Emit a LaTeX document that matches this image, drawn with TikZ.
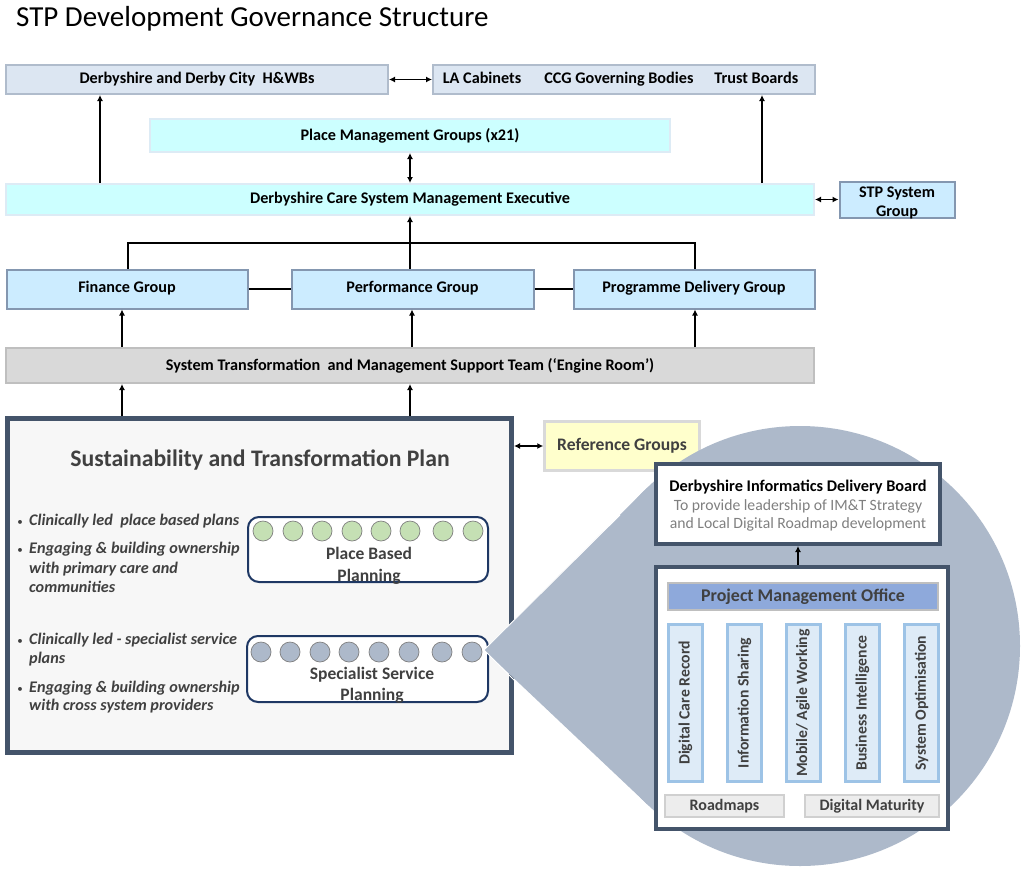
\documentclass[tikz,border=0pt]{standalone}
\usepackage{fontspec}
\setmainfont{Carlito}
\usetikzlibrary{arrows.meta,calc}
\definecolor{topfill}{HTML}{DCE6F2}
\definecolor{topline}{HTML}{B0BCCC}
\definecolor{cyanfill}{HTML}{CCFFFF}
\definecolor{cyanline}{HTML}{DDEBF5}
\definecolor{grpfill}{HTML}{CCECFF}
\definecolor{grpline}{HTML}{8497B0}
\definecolor{stfill}{HTML}{D9D9D9}
\definecolor{stline}{HTML}{BFBFBF}
\definecolor{navy}{HTML}{44546A}
\definecolor{stpfill}{HTML}{F7F7F7}
\definecolor{dkgray}{HTML}{404040}
\definecolor{midgray}{HTML}{808080}
\definecolor{reffill}{HTML}{FFFFCC}
\definecolor{refline}{HTML}{D9D9D9}
\definecolor{callout}{HTML}{ADB9CA}
\definecolor{planline}{HTML}{1F3864}
\definecolor{greenc}{HTML}{C5E0B4}
\definecolor{pmofill}{HTML}{8EA9DB}
\definecolor{barfill}{HTML}{DEEBF7}
\definecolor{barline}{HTML}{9DC3E6}
\definecolor{lowfill}{HTML}{EDEDED}
\definecolor{lowline}{HTML}{D0D0D0}
\newcommand{\fs}[1]{\fontsize{#1}{#1}\selectfont}
\begin{document}
\begin{tikzpicture}[x=1pt,y=-1pt,
  box/.style={draw, line width=2pt, inner sep=2pt, font=\fs{16.2}\bfseries},
  topbox/.style={box, fill=topfill, draw=topline},
  cyanbox/.style={box, fill=cyanfill, draw=cyanline},
  grpbox/.style={box, fill=grpfill, draw=grpline},
  arr/.style={line width=1.6pt, -{Latex[length=6pt,width=6pt]}},
  darr/.style={line width=1.6pt, {Latex[length=6pt,width=6pt]}-{Latex[length=6pt,width=6pt]}},
  conn/.style={line width=1.6pt},
  dot/.style={circle, draw=midgray, line width=0.7pt, minimum size=20pt, inner sep=0pt},
  bline/.style={anchor=base west, inner sep=0pt, font=\fs{16.2}\bfseries\itshape, text=dkgray},
  bdot/.style={anchor=base, inner sep=0pt, font=\fs{11}, text=dkgray},
  barbox/.style={draw=barline, fill=barfill, line width=3pt, rotate=90, minimum width=157pt, minimum height=34pt, inner sep=0pt, font=\fs{15.7}\bfseries, text=dkgray},
  lowbox/.style={draw=lowline, fill=lowfill, line width=2.5pt, minimum height=22pt, inner sep=0pt, font=\fs{16}\bfseries, text=dkgray}
]
\useasboundingbox (0,0) rectangle (1022,870);
\fill[white] (0,0) rectangle (1022,870);

\node[anchor=base west, font=\fs{29}, inner sep=0pt] (title) at (16,27) {STP Development Governance Structure};

% top row
\node[topbox, minimum width=382pt, minimum height=29pt] (hwb) at (197,79.5) {Derbyshire and Derby City\ \ H\&WBs};
\node[topbox, minimum width=382pt, minimum height=29pt] (trust) at (624,79.5) {\hspace{-7pt}LA Cabinets\hspace{23pt}CCG Governing Bodies\hspace{21pt}Trust Boards};
\node[cyanbox, minimum width=520pt, minimum height=33pt] (pmg) at (410,135.5) {Place Management Groups (x21)};
\node[cyanbox, minimum width=808pt, minimum height=31pt] (exec) at (410,199.5) {Derbyshire Care System Management Executive};
\node[grpbox, minimum width=115pt, minimum height=36pt] (stpsg) at (897,199.5) {};
\node[anchor=base, inner sep=0pt, font=\fs{16.2}\bfseries] (stpsg1) at (897,197) {STP System};
\node[anchor=base, inner sep=0pt, font=\fs{16.2}\bfseries] (stpsg2) at (897,216) {Group};

% groups
\node[grpbox, minimum width=241pt, minimum height=39pt] (fin) at (127,289) {\raisebox{5pt}{Finance Group}};
\node[grpbox, minimum width=242pt, minimum height=39pt] (perf) at (412.5,289) {\raisebox{5pt}{Performance Group}};
\node[grpbox, minimum width=241pt, minimum height=39pt] (prog) at (694,289) {\raisebox{5pt}{Programme Delivery Group}};
\node[box, fill=stfill, draw=stline, minimum width=808pt, minimum height=35pt] (st) at (410,365.5) {System Transformation\ \ and Management Support Team (‘Engine Room’)};

% STP plan box
\node[draw=navy, fill=stpfill, line width=5pt, minimum width=504pt, minimum height=334pt] (stp) at (259.5,585.5) {};
\node[font=\fs{23.7}\bfseries, text=dkgray] (stptitle) at (260,460) {Sustainability and Transformation Plan};

\node[draw=planline, fill=white, line width=2pt, rounded corners=11pt, minimum width=240pt, minimum height=65pt] (place) at (368,549.5) {};
\node[draw=planline, fill=white, line width=2pt, rounded corners=11pt, minimum width=241pt, minimum height=66pt] (spec) at (367.5,669) {};

\foreach \i/\x in {1/263,2/293,3/322,4/352,5/381,6/410,7/443,8/473}{
  \node[dot, fill=greenc] (g\i) at (\x,531) {};
}
\foreach \i/\x in {1/261,2/290,3/320,4/349,5/379,6/409,7/442,8/472}{
  \node[dot, fill=callout] (s\i) at (\x,652) {};
}
\node[anchor=base, inner sep=0pt, font=\fs{17.5}\bfseries, text=dkgray] (placetxt1) at (369,559) {Place Based};
\node[anchor=base, inner sep=0pt, font=\fs{17.5}\bfseries, text=dkgray] (placetxt2) at (369,581) {Planning};
\node[anchor=base, inner sep=0pt, font=\fs{17.5}\bfseries, text=dkgray] (spectxt1) at (372,679) {Specialist Service};
\node[anchor=base, inner sep=0pt, font=\fs{17.5}\bfseries, text=dkgray] (spectxt2) at (372,700) {Planning};

\node[bline] (b1) at (29,525) {Clinically led\ \ place based plans};
\node[bline] (b2) at (29,553) {Engaging \& building ownership};
\node[bline] (b2b) at (29,573) {with primary care and};
\node[bline] (b2c) at (29,592) {communities};
\node[bline] (b3) at (29,644) {Clinically led - specialist service};
\node[bline] (b3b) at (29,663) {plans};
\node[bline] (b4) at (29,692) {Engaging \& building ownership};
\node[bline] (b4b) at (29,710) {with cross system providers};
\foreach \n in {b1,b2,b3,b4}{
  \node[bdot] at ([xshift=-9pt]\n.base west) {•};
}

% reference groups
\node[draw=refline, fill=reffill, line width=2.5pt, minimum width=155pt, minimum height=49pt, font=\fs{17.6}\bfseries, text=dkgray] (ref) at (622,446) {Reference Groups};

% callout
\fill[callout] (800,646) circle[radius=220pt];
\fill[callout] (484,650) -- (647,488) -- (800,646) -- (647,804) -- cycle;
\draw[white, line width=0.8pt] (484,650) -- (620,515);
\draw[white, line width=0.8pt] (484,650) -- (600,766);

% informatics
\node[draw=navy, fill=white, line width=4pt, minimum width=284pt, minimum height=80pt] (idb) at (798,504) {};
\node[font=\fs{16.3}\bfseries, anchor=base, inner sep=0pt] (idbt) at (798,491) {Derbyshire Informatics Delivery Board};
\node[font=\fs{15.7}, text=midgray, anchor=base, inner sep=0pt] (idbs1) at (798,510) {To provide leadership of IM\&T Strategy};
\node[font=\fs{15.7}, text=midgray, anchor=base, inner sep=0pt] (idbs2) at (798,528) {and Local Digital Roadmap development};

\node[draw=navy, fill=white, line width=4pt, minimum width=292pt, minimum height=262pt] (low) at (802,698) {};
\node[draw=stline, fill=pmofill, line width=2.5pt, minimum width=270pt, minimum height=27pt, inner sep=0pt, font=\fs{17.9}\bfseries, text=dkgray] (pmo) at (803,596.5) {Project Management Office};
\node[barbox] (bar1) at (685.5,703) {Digital Care Record};
\node[barbox] (bar2) at (744.5,703) {Information Sharing};
\node[barbox] (bar3) at (803,703) {Mobile/ Agile Working};
\node[barbox] (bar4) at (862.5,703) {Business Intelligence};
\node[barbox] (bar5) at (921.5,703) {System Optimisation};
\node[lowbox, minimum width=119pt] (road) at (724.5,806) {Roadmaps};
\node[lowbox, minimum width=134pt] (dm) at (872,806) {Digital Maturity};

% connectors
\coordinate (x100) at (100,0);
\coordinate (x762) at (762,0);
\coordinate (x128) at (128,0);
\coordinate (x695) at (695,0);
\coordinate (x410) at (410,0);
\coordinate (x122) at (122,0);
\coordinate (x412) at (412,0);
\coordinate (bus) at (410,243);

\draw[darr] (hwb.east) -- (trust.west);
\draw[arr] (x100 |- exec.north) -- (x100 |- hwb.south);
\draw[arr] (x762 |- exec.north) -- (x762 |- trust.south);
\draw[darr] (pmg.south) -- (exec.north);
\draw[darr] (exec.east) -- (stpsg.west);
\draw[conn] (x128 |- fin.north) |- (bus) -| (x695 |- prog.north);
\draw[arr] (x410 |- perf.north) -- (x410 |- exec.south);
\draw[conn] (fin.east) -- (perf.west);
\draw[conn] (perf.east) -- (prog.west);
\draw[arr] (x122 |- st.north) -- (x122 |- fin.south);
\draw[arr] (x412 |- st.north) -- (x412 |- perf.south);
\draw[arr] (x695 |- st.north) -- (x695 |- prog.south);
\draw[arr] (x122 |- stp.north) -- (x122 |- st.south);
\draw[arr] (x410 |- stp.north) -- (x410 |- st.south);
\draw[darr] (stp.east |- ref.west) -- (ref.west);
\draw[arr, line width=1.4pt] (low.north -| idb.south) -- (idb.south);
\end{tikzpicture}
\end{document}
